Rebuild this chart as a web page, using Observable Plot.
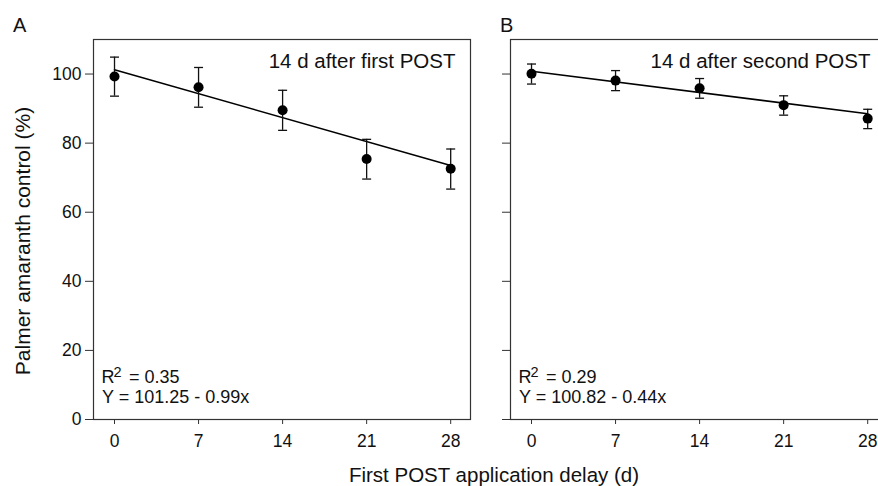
<!DOCTYPE html>
<html>
<head>
<meta charset="utf-8">
<script src="https://cdn.jsdelivr.net/npm/d3@7"></script>
<script src="https://cdn.jsdelivr.net/npm/@observablehq/plot@0.6"></script>
<style>
  html, body { margin: 0; padding: 0; background: #fff; }
  #fig { position: relative; width: 878px; height: 486px; overflow: hidden; background: #fff;
         font-family: "Liberation Sans", Arial, sans-serif; color: #111; }
  #fig .lbl { position: absolute; white-space: nowrap; line-height: 1; }
  #fig .panel { position: absolute; top: 0; }
</style>
</head>
<body>
<div id="fig">
  <div class="lbl" style="left:13px; top:15px; font-size:20px;">A</div>
  <div class="lbl" style="left:500px; top:15px; font-size:20px;">B</div>
  <div class="lbl" style="left:494px; top:464.6px; font-size:20.5px; transform:translateX(-50%);">First POST application delay (d)</div>
  <div class="lbl" style="left:22px; top:241px; font-size:21px; transform:translate(-50%,-50%) rotate(-90deg);">Palmer amaranth control (%)</div>
</div>
<script>
// ---- data ----
const days = [0, 7, 14, 21, 28];
const meanA = [99.3, 96.2, 89.5, 75.4, 72.6];
const lowA  = [93.6, 90.4, 83.7, 69.6, 66.7];
const highA = [104.9, 101.9, 95.3, 81.1, 78.3];
const meanB = [100.1, 98.1, 95.9, 91.0, 87.1];
const lowB  = [97.1, 95.2, 93.0, 88.1, 84.2];
const highB = [102.9, 101.0, 98.7, 93.7, 89.8];
const fitDays = [0, 28];
const fitA = [101.25, 73.53];
const fitB = [100.82, 88.50];
const yTicks = [0, 20, 40, 60, 80, 100];
const panelTitles = ["14 d after first POST", "14 d after second POST"];
const r2Values = ["= 0.35", "= 0.29"];
const equations = ["Y = 101.25 - 0.99x", "Y = 100.82 - 0.44x"];

const FONT = '"Liberation Sans", Arial, sans-serif';

const capSymbol = {
  draw(context) {
    const w = 4.5;
    context.moveTo(-w, 0);
    context.lineTo(w, 0);
  }
};

function panel({mean, low, high, fit, title, r2, eq, width, marginLeft, marginRight, yLabels, titleDx}) {
  const rows = days.map((d, i) => ({day: d, mean: mean[i], low: low[i], high: high[i]}));
  const fitRows = fitDays.map((d, i) => ({day: d, y: fit[i]}));
  return Plot.plot({
    width, height: 486,
    marginLeft, marginRight, marginTop: 39, marginBottom: 67,
    style: {fontFamily: FONT, fontSize: "17.5px", color: "#111", background: "transparent", overflow: "visible"},
    x: {domain: [-1.75, 29.65]},
    y: {domain: [0, 110]},
    marks: [
      Plot.axisX({ticks: days, tickSize: 5, tickPadding: 10, label: null, fontSize: 17.5,
                  stroke: "#333", fill: "#111", tickFormat: d => String(d)}),
      Plot.axisY({ticks: yTicks, tickSize: 8, tickPadding: 4, label: null, fontSize: 17.5,
                  stroke: "#333", fill: "#111", tickFormat: yLabels ? d => String(d) : () => ""}),
      Plot.frame({stroke: "#333", strokeWidth: 1.2}),
      Plot.line(fitRows, {x: "day", y: "y", stroke: "#000", strokeWidth: 1.6}),
      Plot.ruleX(rows, {x: "day", y1: "low", y2: "high", stroke: "#111", strokeWidth: 1.3}),
      Plot.dot(rows, {x: "day", y: "low", symbol: capSymbol, stroke: "#111", strokeWidth: 1.3, r: 4}),
      Plot.dot(rows, {x: "day", y: "high", symbol: capSymbol, stroke: "#111", strokeWidth: 1.3, r: 4}),
      Plot.dot(rows, {x: "day", y: "mean", r: 5, fill: "#000", stroke: "none"}),
      Plot.text([title], {text: d => d, frameAnchor: "top-right", textAnchor: "end", lineAnchor: "middle",
                          dx: titleDx, dy: 22.4, fontSize: 20.5, fill: "#111"}),
      Plot.text(["R"], {text: d => d, frameAnchor: "bottom-left", textAnchor: "start", lineAnchor: "middle",
                        dx: 8, dy: -41.8, fontSize: 18, fill: "#111"}),
      Plot.text(["2"], {text: d => d, frameAnchor: "bottom-left", textAnchor: "start", lineAnchor: "middle",
                        dx: 20, dy: -47, fontSize: 14.5, fill: "#111"}),
      Plot.text([r2], {text: d => d, frameAnchor: "bottom-left", textAnchor: "start", lineAnchor: "middle",
                       dx: 35.4, dy: -41.8, fontSize: 18, fill: "#111"}),
      Plot.text([eq], {text: d => d, frameAnchor: "bottom-left", textAnchor: "start", lineAnchor: "middle",
                       dx: 8.5, dy: -21.8, fontSize: 18, fill: "#111"})
    ]
  });
}

const fig = document.getElementById("fig");

const a = panel({mean: meanA, low: lowA, high: highA, fit: fitA, title: panelTitles[0], r2: r2Values[0], eq: equations[0],
                 width: 474, marginLeft: 93, marginRight: 4, yLabels: true, titleDx: -15});
a.classList.add("panel");
a.style.left = "0px";
fig.appendChild(a);

const b = panel({mean: meanB, low: lowB, high: highB, fit: fitB, title: panelTitles[1], r2: r2Values[1], eq: equations[1],
                 width: 416, marginLeft: 36, marginRight: 3, yLabels: false, titleDx: -17});
b.classList.add("panel");
b.style.left = "474px";
b.style.maxWidth = "none";
fig.appendChild(b);
</script>
</body>
</html>
